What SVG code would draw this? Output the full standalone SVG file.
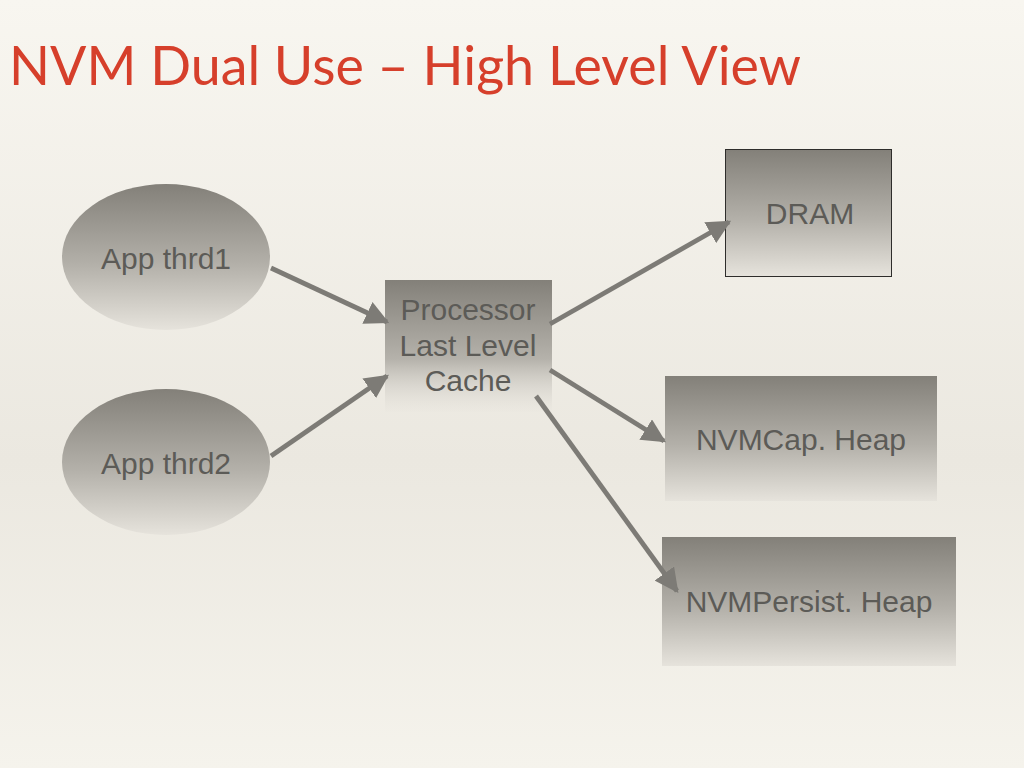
<svg xmlns="http://www.w3.org/2000/svg" width="1024" height="768" viewBox="0 0 1024 768">
<defs>
<linearGradient id="bg" x1="0" y1="0" x2="0" y2="1">
<stop offset="0" stop-color="#f8f6f0"/>
<stop offset="0.6" stop-color="#ebe8e0"/>
<stop offset="1" stop-color="#f5f3ec"/>
</linearGradient>
<linearGradient id="nodeGrad" x1="0" y1="0" x2="0" y2="1">
<stop offset="0" stop-color="#838079"/>
<stop offset="0.55" stop-color="#b3b0a9"/>
<stop offset="1" stop-color="#e6e3dc"/>
</linearGradient>
<linearGradient id="procGrad" x1="0" y1="0" x2="0" y2="1">
<stop offset="0" stop-color="#838079"/>
<stop offset="0.6" stop-color="#b5b2ab"/>
<stop offset="1" stop-color="#e9e6df" stop-opacity="0.3"/>
</linearGradient>
<marker id="arrow" viewBox="0 0 10 10" refX="9" refY="5" markerWidth="5" markerHeight="5" orient="auto" markerUnits="strokeWidth">
<path d="M0,0 L10,5 L0,10 z" fill="#7d7b76"/>
</marker>
<style>
.lbl{font-family:"Liberation Sans",Arial,sans-serif;font-size:30px;fill:#5c5b57;text-anchor:middle}
.conn{stroke:#7d7b76;stroke-width:4.8;fill:none;marker-end:url(#arrow)}
</style>
</defs>
<rect width="1024" height="768" fill="url(#bg)"/>
<text x="9" y="85" font-family="Lato,'Open Sans',sans-serif" font-size="55" fill="#d63f2b" textLength="792" lengthAdjust="spacingAndGlyphs">NVM Dual Use – High Level View</text>
<g id="thrd1">
<ellipse cx="166" cy="257" rx="104" ry="73" fill="url(#nodeGrad)"/>
<text class="lbl" x="166" y="269">App thrd1</text>
</g>
<g id="thrd2">
<ellipse cx="166" cy="462" rx="104" ry="73" fill="url(#nodeGrad)"/>
<text class="lbl" x="166" y="474">App thrd2</text>
</g>
<g id="processor">
<rect x="385" y="280" width="167" height="132" fill="url(#procGrad)"/>
<text class="lbl" x="468" y="320">Processor</text>
<text class="lbl" x="468" y="356">Last Level</text>
<text class="lbl" x="468" y="391">Cache</text>
</g>
<g id="dram">
<rect x="725.5" y="149.5" width="166" height="127" fill="url(#nodeGrad)" stroke="#2e2d2b" stroke-width="1"/>
<text class="lbl" x="810" y="224">DRAM</text>
</g>
<g id="nvmcap">
<rect x="665" y="376" width="272" height="125" fill="url(#nodeGrad)"/>
<text class="lbl" x="801" y="450">NVMCap. Heap</text>
</g>
<g id="nvmpersist">
<rect x="662" y="537" width="294" height="129" fill="url(#nodeGrad)"/>
<text class="lbl" x="809" y="612">NVMPersist. Heap</text>
</g>
<g id="connectors">
<line class="conn" x1="271" y1="268" x2="387" y2="322"/>
<line class="conn" x1="271" y1="456" x2="387" y2="376"/>
<line class="conn" x1="550" y1="324" x2="729" y2="222"/>
<line class="conn" x1="550" y1="370" x2="664" y2="441"/>
<line class="conn" x1="536" y1="396" x2="677" y2="591"/>
</g>
</svg>
